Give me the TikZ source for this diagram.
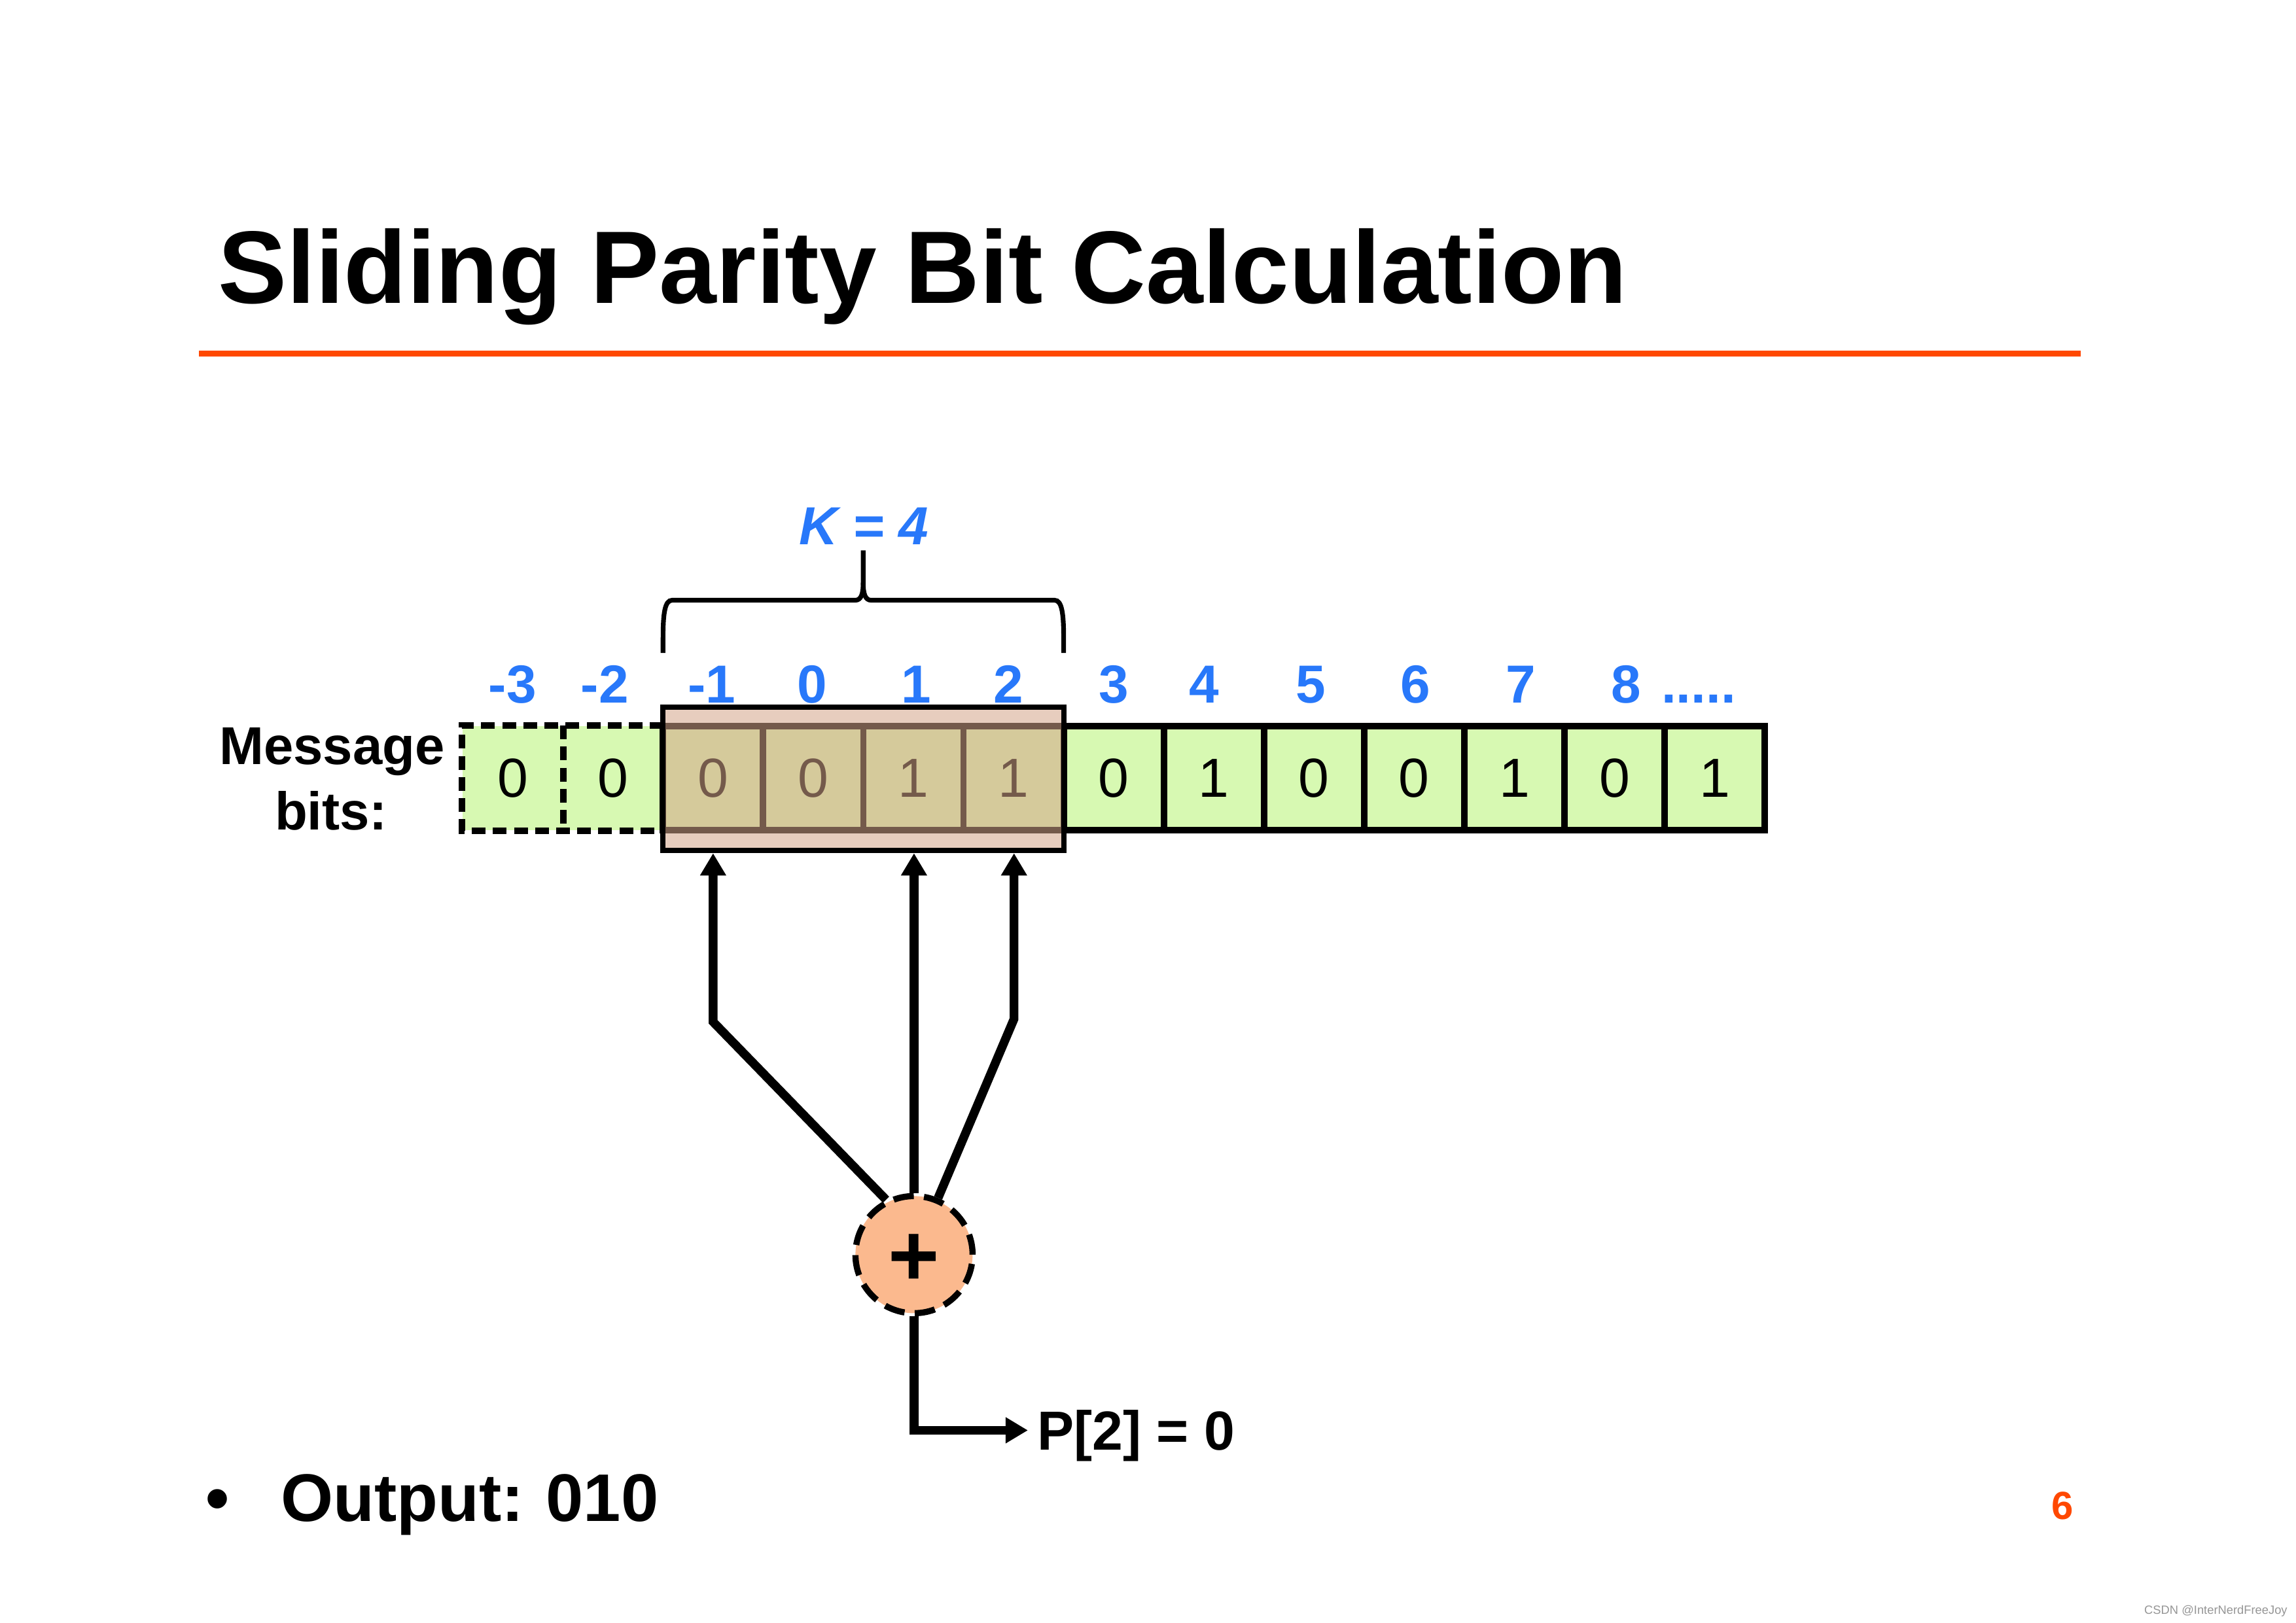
\documentclass[tikz,border=0pt]{standalone}
\usepackage{fontspec}
\setmainfont{Liberation Sans}
\usetikzlibrary{arrows.meta}
\definecolor{slideblue}{RGB}{40,120,250}
\definecolor{slideorange}{RGB}{255,72,0}
\definecolor{cellgreen}{RGB}{215,249,178}
\definecolor{winfill}{RGB}{213,164,137}
\definecolor{xorfill}{RGB}{251,185,142}
\definecolor{wmgray}{RGB}{150,150,150}
\begin{document}
\begin{tikzpicture}[x=0.5pt,y=-0.5pt,
  cell/.style={rectangle, minimum width=34.2pt, minimum height=35.5pt, inner sep=0pt,
    fill=cellgreen, draw=black, line width=2.2pt, font=\fontsize{18.8}{18.8}\selectfont},
  dcell/.style={rectangle, minimum width=34.2pt, minimum height=35.5pt, inner sep=0pt,
    fill=cellgreen, font=\fontsize{18.8}{18.8}\selectfont},
  dashline/.style={line width=2.2pt, dash pattern=on 4.7pt off 2.5pt},
  idx/.style={anchor=base, inner sep=0pt, text=slideblue, font=\fontsize{18.3}{18.3}\selectfont\bfseries},
  winbox/.style={rectangle, draw=black, line width=1.8pt, fill=winfill, fill opacity=0.55,
    minimum width=136.8pt, minimum height=49pt, inner sep=0pt},
  xorstyle/.style={circle, minimum size=40pt, inner sep=0pt, fill=xorfill, draw=black,
    line width=2.1pt, dash pattern=on 7pt off 3.5pt, font=\fontsize{30}{30}\selectfont\bfseries},
  arr/.style={line width=3pt, -{Triangle[length=7.6pt,width=8.4pt]}},
  bracestyle/.style={line width=1.6pt},
  boldtext/.style={inner sep=0pt, font=\fontsize{18.2}{18.2}\selectfont\bfseries}
]
\fill[white] (0,0) rectangle (1568,1108.6);
\useasboundingbox (0,0) rectangle (1568,1108.6);

% title
\node[anchor=base west, inner sep=0pt, font=\fontsize{35.2}{35.2}\selectfont\bfseries] (title) at (148.5,207) {Sliding Parity Bit Calculation};
\draw[slideorange, line width=2.15pt] (136,241.5) -- (1421,241.5);

% message bits label
\node[boldtext, anchor=base] (msg1) at (226.8,522.1) {Message};
\node[boldtext, anchor=base] (msg2) at (226.1,566.8) {bits:};

% cells
\foreach \i in {1,2}
  \node[dcell] (c\i) at ({316+68.4*(\i-0.5)},531.5) {0};
\foreach \i/\v in {3/0,4/0,5/1,6/1,7/0,8/1,9/0,10/0,11/1,12/0,13/1}
  \node[cell] (c\i) at ({316+68.4*(\i-0.5)},531.5) {\v};
\draw[dashline] (c2.north east) -- (c1.north west) -- (c1.south west) -- (c2.south east);
\draw[dashline] (c1.north east) -- (c1.south east);

% window
\node[winbox] (hl) at (589.6,532) {};

% index labels
\foreach \x/\t [count=\k] in {350/-3,413/-2,486/-1,554.7/0,625.8/1,688.5/2,760.7/3,822.4/4,895.2/5,966.7/6,1038.8/7,1110.6/8}
  \node[idx] (idx\k) at (\x,480) {\t};
\node[idx] (dots) at (1160,480) {.....};

% brace and K
\draw[bracestyle] (452.8,446) -- (452.8,436) .. controls (452.8,419) and (454,410) .. (459,410)
  -- (584,410) .. controls (588,410) and (589.5,406) .. (589.5,398) -- (589.5,376);
\draw[bracestyle] (726.4,446) -- (726.4,436) .. controls (726.4,419) and (725.2,410) .. (720.2,410)
  -- (595,410) .. controls (591,410) and (589.5,406) .. (589.5,398);
\node[idx, font=\fontsize{18.3}{18.3}\selectfont\bfseries\itshape] (klab) at (590,372) {K = 4};

% xor
\node[xorstyle] (xor) at (624.2,857) {\smash{\raisebox{-10.6pt}{+}}};
\coordinate (bl) at (487,698);
\coordinate (br) at (692.5,696);
\draw[arr] (xor.117) -- (bl) -- (bl |- hl.south);
\draw[arr] (xor.north) -- (xor.north |- hl.south);
\draw[arr] (xor.67) -- (br) -- (br |- hl.south);

% output
\node[boldtext, anchor=west, inner sep=3pt, text depth=0pt, font=\fontsize{18.8}{18.8}\selectfont\bfseries] (pout) at (702,977) {P[2] = 0};
\coordinate (oc) at (624.2,977);
\draw[arr] (xor.south) -- (oc) -- (pout.west);

% bullet
\node[anchor=base, inner sep=0pt, font=\fontsize{23}{23}\selectfont\bfseries] (bul) at (148.6,1039) {\textbullet};
\node[anchor=base west, inner sep=0pt, font=\fontsize{23}{23}\selectfont\bfseries] (outtxt) at (191.5,1039) {Output:\hspace{-1pt} 010};

% page number and watermark
\node[anchor=base, inner sep=0pt, text=slideorange, font=\fontsize{13.4}{13.4}\selectfont\bfseries] (pnum) at (1408.5,1038) {6};
\node[anchor=base west, inner sep=0pt, text=wmgray, font=\fontsize{4.1}{4.1}\selectfont] (wm) at (1464,1102.7) {CSDN @InterNerdFreeJoy};
\end{tikzpicture}
\end{document}
